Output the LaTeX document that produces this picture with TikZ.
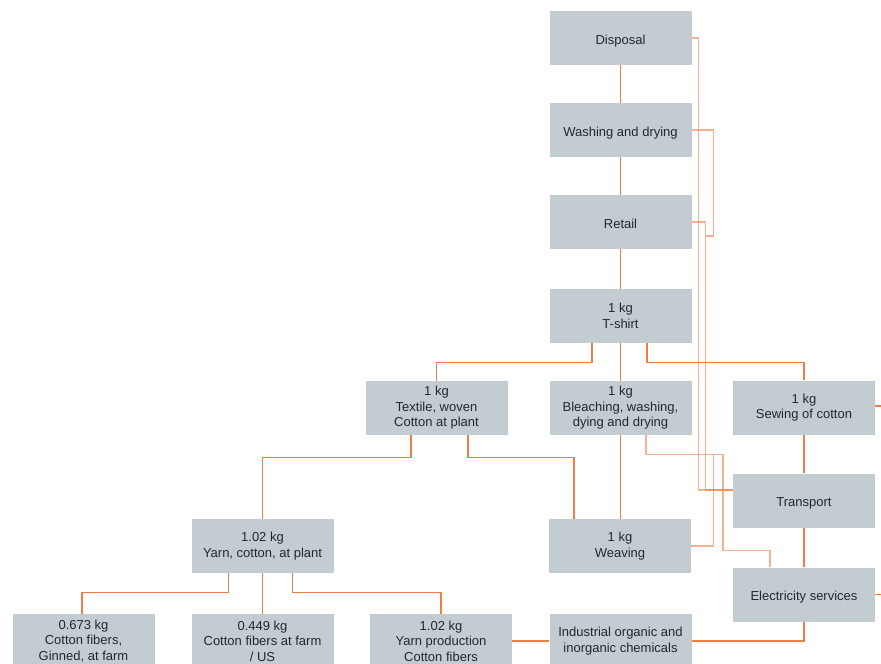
\documentclass[tikz,border=0pt]{standalone}
\usepackage{fontspec}
\setmainfont{Liberation Sans}
\usetikzlibrary{calc}
\definecolor{boxgray}{HTML}{C3CDD1}
\definecolor{lineor}{HTML}{F07D45}
\definecolor{txt}{HTML}{26262E}
\tikzset{
  box/.style={fill=boxgray, draw=none, minimum width=142pt, minimum height=54pt, inner sep=0pt,
    align=center, text=txt, font=\fontsize{13}{15.5}\selectfont},
  oneline/.style={text height=15pt, text depth=2.7pt},
  link/.style={draw=lineor, line width=1.4pt},
  bus/.style={draw=lineor, line width=1.4pt, opacity=0.6}
}
\begin{document}
\begin{tikzpicture}[x=1pt,y=-1pt]
\useasboundingbox (0,0) rectangle (881,664);
\clip (0,0) rectangle (881,664);
\fill[white] (0,0) rectangle (881,664);
% nodes
\node[box,oneline] (disposal) at (620.5,38) {Disposal};
\node[box,oneline] (washing) at (620.5,130) {Washing and drying};
\node[box,oneline] (retail) at (620.5,222) {Retail};
\node[box] (tshirt) at (620.5,316) {1 kg\\T-shirt};
\node[box] (textile) at (436.5,408) {1 kg\\Textile, woven\\Cotton at plant};
\node[box] (bleach) at (620.5,408) {1 kg\\Bleaching, washing,\\dying and drying};
\node[box] (sewing) at (804,407.5) {1 kg\\Sewing of cotton};
\node[box,oneline] (transport) at (804,500.5) {Transport};
\node[box] (weaving) at (620,546) {1 kg\\Weaving};
\node[box] (yarn) at (262.5,546) {1.02 kg\\Yarn, cotton, at plant};
\node[box,oneline] (elec) at (804,594.5) {Electricity services};
\node[box] (ginned) at (83.5,641) {0.673 kg\\Cotton fibers,\\Ginned, at farm};
\node[box] (farm) at (262.5,641) {0.449 kg\\Cotton fibers at farm\\/ US};
\node[box] (yarnprod) at (441,641) {1.02 kg\\Yarn production\\Cotton fibers};
\node[box] (industrial) at (620.5,641) {Industrial organic and\\inorganic chemicals};
\coordinate (sewout) at (890,406);
\coordinate (elecout) at (890,594.5);
% bus lines (lighter)
\draw[bus] (disposal.east) -- ++(7,0) |- ([yshift=10.5pt]transport.west);
\draw[bus] (retail.east) -- ++(14,0) |- ([yshift=10.5pt]transport.west);
\draw[bus] (washing.east) -- ++(22,0) -- ++(0,106) -- ++(-8,0);
\draw[bus] ([xshift=25.5pt]bleach.south) -- ++(0,19) -- ++(77,0) -- ++(0,96) -| ([xshift=-34pt]elec.north);
\draw[bus] (weaving.east) -- ++(22,0) -- ++(0,-92);
% main links
\draw[link] (disposal) -- (washing);
\draw[link] (washing) -- (retail);
\draw[link] (retail) -- (tshirt);
\draw[link] (tshirt) -- (bleach);
\draw[link] ([xshift=-28.5pt]tshirt.south) -- ++(0,19) -| (textile.north);
\draw[link] ([xshift=26.5pt]tshirt.south) -- ++(0,19) -| (sewing.north);
\draw[link] (bleach.south) -- (bleach.south |- weaving.north);
\draw[link] ([xshift=31.5pt]textile.south) -- ++(0,22) -| ([xshift=-46pt]weaving.north);
\draw[link] ([xshift=-25.5pt]textile.south) -- ++(0,22) -| (yarn.north);
\draw[link] ([xshift=-34pt]yarn.south) -- ++(0,19) -| ([xshift=-1.5pt]ginned.north);
\draw[link] (yarn) -- (farm);
\draw[link] ([xshift=30pt]yarn.south) -- ++(0,19) -| (yarnprod.north);
\draw[link] (yarnprod.east) -- (industrial.west);
\draw[link] (industrial.east) -| (elec.south);
\draw[link] (sewing) -- (transport);
\draw[link] (transport) -- (elec);
\draw[link] (sewing.east |- sewout) -- (sewout);
\draw[link] (elec.east) -- (elecout);
\end{tikzpicture}
\end{document}
